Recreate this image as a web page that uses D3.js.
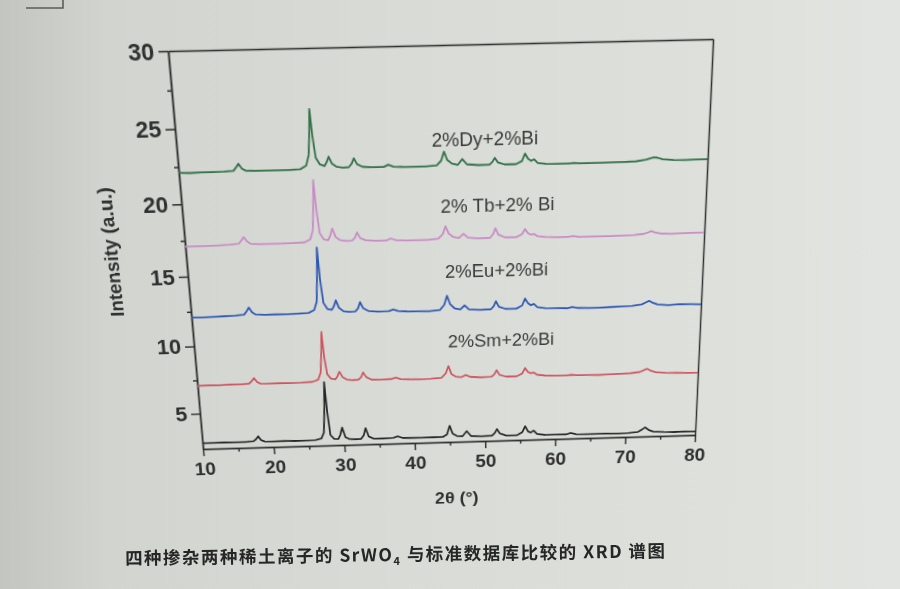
<!DOCTYPE html>
<html>
<head>
<meta charset="utf-8">
<script src="https://cdn.jsdelivr.net/npm/d3@7/dist/d3.min.js"></script>
<style>
  html, body { margin: 0; padding: 0; }
  body {
    width: 900px; height: 589px; overflow: hidden; position: relative;
    background: linear-gradient(90deg, #c3c6c0 0%, #d2d5cf 12%, #d9dcd6 45%, #dee1db 80%, #e1e4e0 100%);
  }
  svg { position: absolute; left: 0; top: 0; }
  #chart { transform-origin: 0 0; }
</style>
</head>
<body>
<script>
// 2theta grid shared by all patterns
const theta = [10, 11.5, 13, 14.5, 16, 17.2, 17.6, 17.9, 18.3, 18.8,
  20, 21.5, 23, 24.5, 26, 26.8, 27.2, 27.45, 27.6, 27.8,
  28.1, 28.6, 29.2, 29.5, 29.8, 30.2, 30.8, 31.6, 32.4, 32.8,
  33.1, 33.5, 34.2, 35.5, 37, 37.6, 38.3, 39.5, 41, 42.5,
  44, 44.6, 45.0, 45.4, 46, 46.8, 47.4, 48, 49.5, 51,
  51.4, 51.7, 52.1, 53, 54.5, 55.3, 55.7, 56.1, 56.5, 56.9,
  57.4, 58.5, 60, 61.5, 62.2, 63, 64.5, 66, 67.5, 69,
  70.5, 71.8, 72.4, 72.8, 73.3, 74, 75.5, 77, 78.5, 80];

// bottom pattern (no label)
const base = [2.75, 2.74, 2.76, 2.74, 2.75, 2.78, 2.95, 3.15, 2.85, 2.74,
  2.73, 2.74, 2.72, 2.73, 2.75, 2.85, 3.3, 5.2, 7.1, 5.0,
  3.1, 2.8, 2.78, 3.1, 3.65, 2.9, 2.74, 2.72, 2.73, 3.0,
  3.55, 2.9, 2.73, 2.72, 2.74, 2.85, 2.72, 2.7, 2.69, 2.7,
  2.71, 2.9, 3.55, 2.95, 2.75, 2.72, 3.1, 2.72, 2.68, 2.7,
  2.9, 3.2, 2.85, 2.68, 2.67, 2.9, 3.35, 2.95, 2.85, 3.0,
  2.72, 2.65, 2.64, 2.63, 2.72, 2.62, 2.6, 2.6, 2.6, 2.59,
  2.6, 2.66, 2.85, 3.0, 2.8, 2.66, 2.6, 2.58, 2.6, 2.57];

const sm = [7.08, 7.1, 7.09, 7.12, 7.1, 7.15, 7.35, 7.55, 7.25, 7.12,
  7.1, 7.12, 7.11, 7.12, 7.15, 7.3, 7.8, 9.4, 10.8, 9.0,
  7.7, 7.35, 7.3, 7.5, 7.85, 7.45, 7.25, 7.2, 7.22, 7.4,
  7.75, 7.4, 7.2, 7.18, 7.2, 7.3, 7.18, 7.15, 7.13, 7.14,
  7.2, 7.5, 8.05, 7.45, 7.25, 7.2, 7.35, 7.2, 7.15, 7.17,
  7.35, 7.65, 7.3, 7.15, 7.15, 7.35, 7.75, 7.45, 7.35, 7.4,
  7.22, 7.15, 7.12, 7.1, 7.15, 7.1, 7.1, 7.08, 7.1, 7.12,
  7.15, 7.22, 7.35, 7.45, 7.3, 7.18, 7.1, 7.08, 7.05, 7.05];

const eu = [12.1, 12.08, 12.1, 12.12, 12.15, 12.2, 12.45, 12.7, 12.35, 12.18,
  12.15, 12.17, 12.15, 12.17, 12.2, 12.4, 13.0, 15.0, 16.8, 14.6,
  12.9, 12.45, 12.38, 12.62, 13.05, 12.5, 12.25, 12.2, 12.22, 12.44,
  12.88, 12.43, 12.22, 12.17, 12.18, 12.28, 12.16, 12.12, 12.11, 12.1,
  12.17, 12.52, 13.17, 12.57, 12.26, 12.16, 12.45, 12.15, 12.1, 12.12,
  12.34, 12.69, 12.29, 12.12, 12.11, 12.33, 12.83, 12.48, 12.33, 12.43,
  12.18, 12.1, 12.08, 12.05, 12.13, 12.05, 12.03, 12.03, 12.05, 12.07,
  12.1, 12.18, 12.33, 12.43, 12.28, 12.15, 12.08, 12.13, 12.11, 12.08];

const tb = [17.1, 17.1, 17.1, 17.12, 17.15, 17.2, 17.45, 17.65, 17.35, 17.17,
  17.13, 17.14, 17.13, 17.15, 17.18, 17.38, 18.0, 19.8, 21.4, 19.5,
  17.8, 17.35, 17.3, 17.6, 18.1, 17.5, 17.27, 17.2, 17.22, 17.42,
  17.78, 17.38, 17.22, 17.17, 17.17, 17.3, 17.17, 17.14, 17.13, 17.13,
  17.2, 17.5, 18.05, 17.55, 17.3, 17.22, 17.5, 17.22, 17.16, 17.18,
  17.43, 17.83, 17.38, 17.18, 17.17, 17.37, 17.72, 17.42, 17.32, 17.37,
  17.2, 17.13, 17.1, 17.1, 17.15, 17.09, 17.08, 17.08, 17.09, 17.1,
  17.12, 17.18, 17.28, 17.36, 17.26, 17.18, 17.14, 17.15, 17.17, 17.17];

const dy = [22.1, 22.08, 22.1, 22.1, 22.12, 22.16, 22.4, 22.62, 22.3, 22.15,
  22.12, 22.13, 22.12, 22.13, 22.16, 22.4, 23.1, 24.7, 26.1, 24.4,
  22.9, 22.45, 22.33, 22.58, 22.95, 22.48, 22.26, 22.2, 22.22, 22.45,
  22.8, 22.4, 22.22, 22.18, 22.18, 22.32, 22.18, 22.15, 22.14, 22.14,
  22.2, 22.5, 23.1, 22.55, 22.3, 22.2, 22.58, 22.22, 22.15, 22.16,
  22.35, 22.6, 22.3, 22.15, 22.15, 22.35, 22.85, 22.5, 22.35, 22.45,
  22.2, 22.13, 22.1, 22.1, 22.14, 22.1, 22.1, 22.1, 22.12, 22.13,
  22.15, 22.24, 22.33, 22.38, 22.36, 22.24, 22.17, 22.16, 22.17, 22.17];

const seriesNames = ["", "2%Sm+2%Bi", "2%Eu+2%Bi", "2% Tb+2% Bi", "2%Dy+2%Bi"];
const seriesValues = [base, sm, eu, tb, dy];
const xTicks = [10, 20, 30, 40, 50, 60, 70, 80];
const yTicks = [5, 10, 15, 20, 25, 30];
const caption = "四种掺杂两种稀土离子的 SrWO";

// styles
const colors = ["#262626", "#cc5662", "#2f58b4", "#c98cc6", "#35724a"];
// where each label sits, in data units (theta, intensity)
const labelPos = [null, [45, 9.9], [44.8, 14.9], [44.4, 19.4], [43.4, 23.9]];

const margin = { top: 45, right: 195, bottom: 147, left: 190 };
const width = 900 - margin.left - margin.right;
const height = 589 - margin.top - margin.bottom;

const svg = d3.select("body").append("svg")
  .attr("id", "chart")
  .attr("width", 900)
  .attr("height", 589);

const g = svg.append("g")
  .attr("transform", "translate(" + margin.left + "," + margin.top + ")");

const x = d3.scaleLinear().domain([10, 80]).range([0, width]);
const y = d3.scaleLinear().domain([2.3, 30]).range([height, 0]);

const axisColor = "#303030";
const tickFont = "'Liberation Sans', Arial, sans-serif";

function styleAxis(sel, size) {
  sel.selectAll("path, line").attr("stroke", axisColor).attr("stroke-width", 1.5);
  sel.selectAll("text")
    .attr("fill", "#303030")
    .style("font-family", tickFont)
    .style("font-size", (size || 20) + "px")
    .style("font-weight", "bold");
}

// frame: top and right edges
g.append("g").call(d3.axisTop(x).tickValues([]).tickSizeOuter(0))
  .call(styleAxis);
g.append("g").attr("transform", "translate(" + width + ",0)")
  .call(d3.axisRight(y).tickValues([]).tickSizeOuter(0))
  .call(styleAxis);

// x axis
g.append("g").attr("transform", "translate(0," + height + ")")
  .call(d3.axisBottom(x).tickValues(d3.range(15, 80, 10)).tickSize(4).tickFormat("").tickSizeOuter(0))
  .call(styleAxis);
g.append("g").attr("transform", "translate(0," + height + ")")
  .call(d3.axisBottom(x).tickValues(xTicks).tickSize(8).tickPadding(7).tickSizeOuter(0))
  .call(styleAxis, 20);

// y axis
g.append("g")
  .call(d3.axisLeft(y).tickValues([7.5, 12.5, 17.5, 22.5, 27.5]).tickSize(4).tickFormat("").tickSizeOuter(0))
  .call(styleAxis);
g.append("g")
  .call(d3.axisLeft(y).tickValues(yTicks).tickSize(9).tickPadding(4).tickSizeOuter(0))
  .call(styleAxis, 22);

// axis titles
g.append("text")
  .attr("x", width / 2 + 6)
  .attr("y", height + 69)
  .attr("text-anchor", "middle")
  .attr("fill", "#303030")
  .style("font-family", tickFont)
  .style("font-size", "19px")
  .style("font-weight", "bold")
  .text("2θ (°)");

g.append("text")
  .attr("transform", "translate(-67," + (height / 2 - 9) + ") rotate(-90)")
  .attr("text-anchor", "middle")
  .attr("fill", "#303030")
  .style("font-family", tickFont)
  .style("font-size", "19px")
  .style("font-weight", "bold")
  .text("Intensity (a.u.)");

// patterns
const line = d3.line()
  .x((d, i) => x(theta[i]))
  .y(d => y(d));

g.selectAll(".pattern")
  .data(seriesValues)
  .enter()
  .append("path")
  .attr("class", "pattern")
  .attr("d", d => line(d))
  .attr("fill", "none")
  .attr("stroke", (d, i) => colors[i])
  .attr("stroke-width", 1.8)
  .attr("stroke-linejoin", "round");

// labels
g.selectAll(".label")
  .data(seriesNames.map((n, i) => ({ name: n, pos: labelPos[i] })).filter(d => d.pos))
  .enter()
  .append("text")
  .attr("class", "label")
  .attr("x", d => x(d.pos[0]))
  .attr("y", d => y(d.pos[1]))
  .attr("dy", "0.35em")
  .attr("fill", "#3a3a3a")
  .style("font-family", tickFont)
  .style("font-size", "18.5px")
  .text(d => d.name);

// the reference is a photo taken at an angle: map the flat frame onto the photographed one
function homography(src, dst) {
  const A = [];
  for (let i = 0; i < 4; i++) {
    const [sx, sy] = src[i], [u, v] = dst[i];
    A.push([sx, sy, 1, 0, 0, 0, -sx * u, -sy * u, u]);
    A.push([0, 0, 0, sx, sy, 1, -sx * v, -sy * v, v]);
  }
  for (let c = 0; c < 8; c++) {
    let p = c;
    for (let r = c + 1; r < 8; r++) if (Math.abs(A[r][c]) > Math.abs(A[p][c])) p = r;
    [A[c], A[p]] = [A[p], A[c]];
    for (let r = 0; r < 8; r++) {
      if (r === c) continue;
      const f = A[r][c] / A[c][c];
      for (let k = c; k < 9; k++) A[r][k] -= f * A[c][k];
    }
  }
  return A.map((row, i) => row[8] / row[i]);
}

const L = margin.left, R = margin.left + width, T = margin.top, B = margin.top + height;
const h = homography(
  [[L, T], [R, T], [R, B], [L, B]],
  [[168, 51], [713, 39], [695, 435], [203, 449]]
);
svg.style("transform", "matrix3d(" + [h[0], h[3], 0, h[6], h[1], h[4], 0, h[7], 0, 0, 1, 0, h[2], h[5], 0, 1].join(",") + ")");

// flat layer: caption and page marks
const page = d3.select("body").append("svg")
  .attr("width", 900)
  .attr("height", 589);

page.append("path")
  .attr("d", "M26,8H63V0")
  .attr("fill", "none")
  .attr("stroke", "#5a5d5a")
  .attr("stroke-width", 1.6);

const cap = page.append("text")
  .attr("x", 125)
  .attr("y", 561)
  .attr("transform", "rotate(-0.8,395,553)")
  .attr("fill", "#262626")
  .style("font-family", "'Noto Sans CJK SC', sans-serif")
  .style("font-size", "17.5px")
  .style("font-weight", "bold")
  .attr("textLength", 540)
  .attr("lengthAdjust", "spacing");
cap.append("tspan").text(caption);
cap.append("tspan").attr("dy", 4).style("font-size", "11px").text("4");
cap.append("tspan").attr("dy", -4).text(" 与标准数据库比较的 XRD 谱图");
</script>
</body>
</html>
